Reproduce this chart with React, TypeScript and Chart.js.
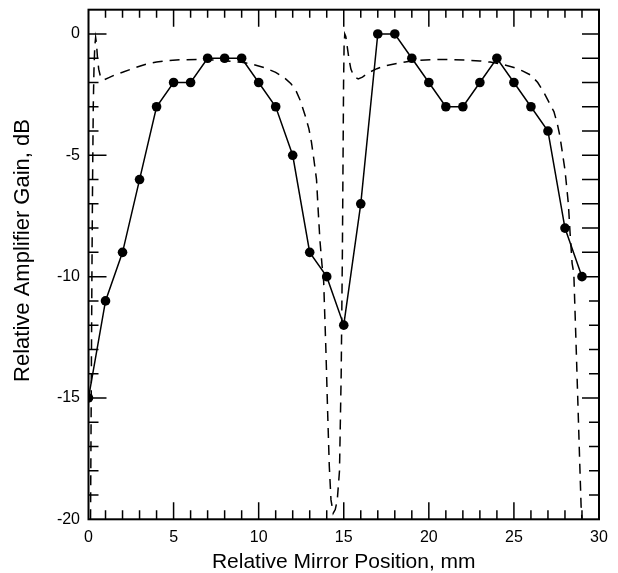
import React, { useEffect, useRef } from "react";
import { Chart, registerables } from "chart.js";

Chart.register(...registerables);

// Measured relative amplifier gain (dB) vs mirror position (mm)
const measuredPosition = [0, 1, 2, 3, 4, 5, 6, 7, 8, 9, 10, 11, 12, 13, 14, 15, 16, 17, 18, 19, 20, 21, 22, 23, 24, 25, 26, 27, 28, 29];
const measuredGain = [-15, -11, -9, -6, -3, -2, -2, -1, -1, -1, -2, -3, -5, -9, -10, -12, -7, 0, 0, -1, -2, -3, -3, -2, -1, -2, -3, -4, -8, -10];

// Calculated curve (dashed)
const theoryPosition = [
  0.12, 0.16, 0.2, 0.24, 0.28, 0.32, 0.37, 0.42, 0.47, 0.53, 0.6, 0.7, 0.82, 0.95, 1.2, 1.5, 2.0, 2.5, 3.0, 3.5, 4.0, 4.6,
  5.5, 6.5, 7.5, 8.5, 9.0, 9.6, 10.3, 11.0, 11.5, 11.9, 12.2, 12.45, 12.75, 12.95, 13.1, 13.25, 13.4, 13.5, 13.6, 13.72,
  13.82, 13.95, 14.05, 14.15, 14.25, 14.38, 14.5, 14.62, 14.75, 14.85, 14.92, 14.96, 14.99, 15.02, 15.06, 15.12, 15.2,
  15.3, 15.42, 15.6, 15.85, 16.1, 16.45, 16.95, 17.5, 18.2, 18.9, 19.8, 20.7, 21.5, 22.2, 23.0, 23.6, 24.3, 25.0, 25.5,
  26.0, 26.4, 26.75, 27.05, 27.35, 27.55, 27.7, 27.85, 28.0, 28.1, 28.2, 28.3, 28.42, 28.52, 28.68, 28.86, 28.95, 29.0,
];
const theoryGain = [
  -20, -15, -10, -6, -3, -1.5, -0.5, -0.15, -0.4, -1.0, -1.45, -1.75, -1.88, -1.88, -1.8, -1.7, -1.58, -1.45, -1.33, -1.22, -1.16, -1.1,
  -1.06, -1.05, -1.08, -1.13, -1.17, -1.24, -1.38, -1.58, -1.8, -2.05, -2.35, -2.75, -3.4, -3.9, -4.45, -5.2, -6.0, -7.3, -8.5, -9.5,
  -10.2, -13, -15.5, -17.8, -19.2, -19.75, -19.6, -19.2, -18.0, -14, -9, -5, -2, -0.5, 0.0, -0.1, -0.5,
  -1.0, -1.45, -1.75, -1.85, -1.78, -1.6, -1.43, -1.3, -1.2, -1.12, -1.07, -1.05, -1.06, -1.08, -1.11, -1.16, -1.25, -1.38, -1.52,
  -1.7, -2.0, -2.4, -2.8, -3.2, -3.7, -4.2, -4.9, -5.6, -6.3, -7.0, -8.2, -9.45, -9.86, -13.4, -17.5, -19.5, -20,
];

const xTickLabels = [0, 5, 10, 15, 20, 25, 30];
const yTickLabels = [-20, -15, -10, -5, 0];
const xMinorTicks = Array.from({ length: 29 }, (_, i) => i + 1);
const yMinorTicks = Array.from({ length: 20 }, (_, i) => -19 + i);
const yTitle = "Relative Amplifier Gain, dB";

const FONT = "'Liberation Sans', Arial, Helvetica, sans-serif";

const frameTicks = {
  id: "frameTicks",
  afterDraw(chart: any) {
    const { ctx, chartArea, scales } = chart;
    const { left, right, top, bottom } = chartArea;
    const x = scales.x;
    const y = scales.y;
    ctx.save();
    ctx.strokeStyle = "#000";
    ctx.lineWidth = 1.5;
    ctx.beginPath();
    xMinorTicks.forEach((v) => {
      const px = x.getPixelForValue(v);
      const major = v % 5 === 0;
      ctx.moveTo(px, bottom);
      ctx.lineTo(px, bottom - (major ? 17 : 9));
      ctx.moveTo(px, top);
      ctx.lineTo(px, top + (major ? 17 : 8));
    });
    yMinorTicks.forEach((v) => {
      const py = y.getPixelForValue(v);
      const major = v % 5 === 0;
      ctx.moveTo(left, py);
      ctx.lineTo(left + (major ? 18 : 10), py);
      const rl = major || v >= -9 ? 17 : 10;
      ctx.moveTo(right, py);
      ctx.lineTo(right - rl, py);
    });
    ctx.stroke();
    ctx.lineWidth = 2;
    ctx.strokeRect(left, top, right - left, bottom - top);

    // y-axis title
    ctx.fillStyle = "#000";
    ctx.font = `22px ${FONT}`;
    ctx.textAlign = "center";
    ctx.textBaseline = "middle";
    ctx.translate(22.5, (top + bottom) / 2 - 14);
    ctx.rotate(-Math.PI / 2);
    ctx.fillText(yTitle, 0, 0);
    ctx.restore();
  },
};

export default function App() {
  const canvasRef = useRef<HTMLCanvasElement | null>(null);

  useEffect(() => {
    if (!canvasRef.current) return;
    const chart = new Chart(canvasRef.current, {
      type: "scatter",
      data: {
        datasets: [
          {
            label: "Measured",
            data: measuredPosition.map((p, i) => ({ x: p, y: measuredGain[i] })),
            showLine: true,
            borderColor: "#000",
            backgroundColor: "#000",
            borderWidth: 1.5,
            pointRadius: 4.8,
            pointBorderWidth: 0,
            pointBackgroundColor: "#000",
            tension: 0,
          },
          {
            label: "Calculated",
            data: theoryPosition.map((p, i) => ({ x: p, y: theoryGain[i] })),
            showLine: true,
            borderColor: "#000",
            borderWidth: 1.5,
            borderDash: [10, 7],
            pointRadius: 0,
            tension: 0,
          },
        ],
      },
      options: {
        animation: false,
        responsive: false,
        layout: { padding: { top: 0, right: 19, left: 0, bottom: 0 } },
        plugins: { legend: { display: false }, tooltip: { enabled: false } },
        scales: {
          x: {
            type: "linear",
            min: 0,
            max: 30,
            grid: { display: false },
            border: { display: false },
            afterBuildTicks: (axis: any) => {
              axis.ticks = xTickLabels.map((v) => ({ value: v }));
            },
            afterFit: (axis: any) => {
              axis.height = 53.7;
            },
            ticks: {
              color: "#000",
              padding: 1,
              maxRotation: 0,
              font: { family: FONT, size: 16 },
            },
            title: {
              display: true,
              text: "Relative Mirror Position, mm",
              color: "#000",
              font: { family: FONT, size: 21, lineHeight: 1 },
              padding: { top: 0, bottom: 0 },
            },
          },
          y: {
            type: "linear",
            min: -20,
            max: 1,
            grid: { display: false },
            border: { display: false },
            afterBuildTicks: (axis: any) => {
              axis.ticks = yTickLabels.map((v) => ({ value: v }));
            },
            afterFit: (axis: any) => {
              axis.width = 88.5;
            },
            ticks: {
              color: "#000",
              padding: 0.5,
              font: { family: FONT, size: 16, lineHeight: 1.15 },
            },
          },
        },
      },
      plugins: [frameTicks],
    });
    return () => chart.destroy();
  }, []);

  return (
    <div style={{ position: "absolute", left: 0, top: 0, width: 618, height: 573, background: "#fff" }}>
      <canvas ref={canvasRef} width={618} height={573} style={{ display: "block" }} />
    </div>
  );
}
